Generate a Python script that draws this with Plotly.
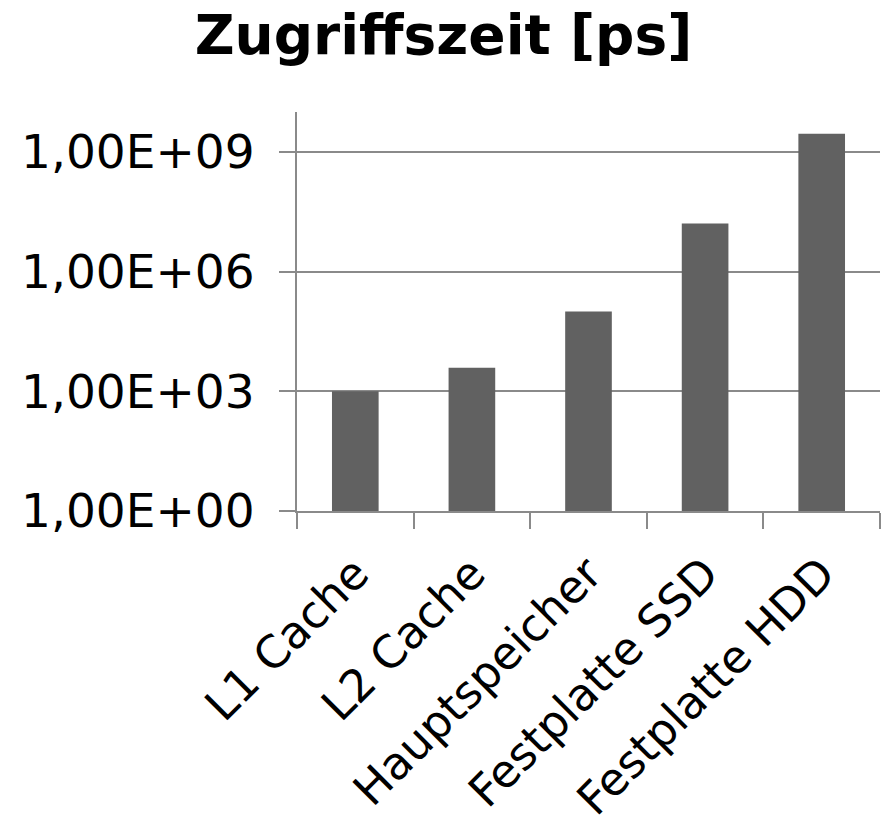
import plotly.graph_objects as go

categories = ["L1 Cache", "L2 Cache", "Hauptspeicher", "Festplatte SSD", "Festplatte HDD"]
values_ps = [1000, 3900, 100000, 1.6e7, 2.85e9]
tick_values = [1, 1e3, 1e6, 1e9]
tick_labels = ["1,00E+00", "1,00E+03", "1,00E+06", "1,00E+09"]
title_text = "Zugriffszeit [ps]"

FONT = "DejaVu Sans, Verdana, sans-serif"
GRID = "#8a8a8a"

fig = go.Figure(go.Bar(x=categories, y=values_ps, marker=dict(color="#616161", line=dict(width=0))))

fig.update_layout(
    width=887, height=834,
    margin=dict(l=297, r=7, t=112, b=323, autoexpand=False),
    paper_bgcolor="white", plot_bgcolor="white",
    bargap=0.6,
    showlegend=False,
    title=dict(text="<b>" + title_text + "</b>", x=0.5, xanchor="center", y=0.958, yanchor="middle",
               font=dict(family=FONT, size=55, color="black")),
    font=dict(family=FONT, color="black"),
)

fig.update_yaxes(
    type="log", range=[0, 10],
    tickvals=tick_values, ticktext=tick_labels,
    tickfont=dict(family=FONT, size=47, color="black"),
    showgrid=True, gridcolor=GRID, gridwidth=2,
    showline=True, linecolor=GRID, linewidth=2,
    ticks="outside", ticklen=16, tickcolor=GRID, tickwidth=2,
    ticklabelstandoff=15,
    zeroline=False, automargin=False,
)

fig.update_xaxes(
    tickangle=-45,
    tickfont=dict(family=FONT, size=45, color="black"),
    showline=True, linecolor=GRID, linewidth=2,
    ticks="outside", ticklen=16, tickcolor=GRID, tickwidth=2,
    tickson="boundaries",
    ticklabelstandoff=16,
    showgrid=False, automargin=False,
)

fig.write_html("out.html", config={"displayModeBar": False},
               post_script="document.body.style.margin='0';")
